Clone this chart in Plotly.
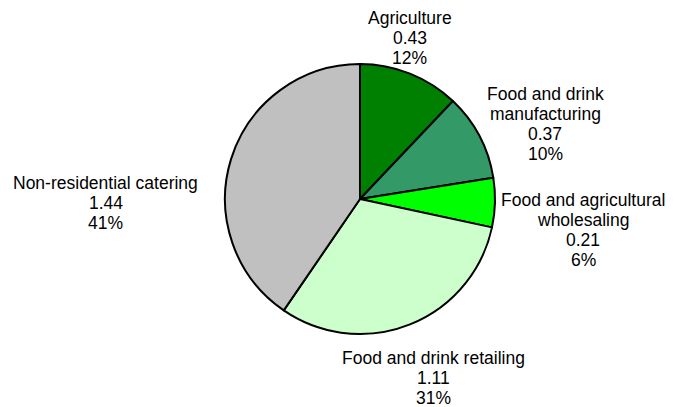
import plotly.graph_objects as go

W, H = 677, 407

# Sector shares of the food chain
sectors = ["Agriculture", "Food and drink manufacturing", "Food and agricultural wholesaling",
           "Food and drink retailing", "Non-residential catering"]
values = [0.43, 0.37, 0.21, 1.11, 1.44]
percents = ["12%", "10%", "6%", "31%", "41%"]
name_lines = [["Agriculture"], ["Food and drink", "manufacturing"],
              ["Food and agricultural", "wholesaling"],
              ["Food and drink retailing"], ["Non-residential catering"]]
colors = ["#008000", "#339966", "#00FF00", "#CCFFCC", "#C0C0C0"]

# label block: centre x and first-line y in pixels (from top); lines 20 px apart
label_pos = [(410, 18), (545, 94), (583, 200), (433, 358), (106, 183)]
LINE_STEP = 20

fig = go.Figure(go.Pie(
    labels=sectors,
    values=values,
    sort=False,
    direction="clockwise",
    rotation=0,
    marker=dict(colors=colors, line=dict(color="black", width=2)),
    textinfo="none",
    hoverinfo="label+value",
    showlegend=False,
    domain=dict(x=[225 / W, 495 / W], y=[(H - 334) / H, (H - 64) / H]),
))

for names, v, p, (px, py) in zip(name_lines, values, percents, label_pos):
    lines = names + [f"{v:.2f}", p]
    for i, line in enumerate(lines):
        fig.add_annotation(
            x=px / W, y=1 - (py + i * LINE_STEP) / H, xref="paper", yref="paper",
            text=line, showarrow=False, xanchor="center", yanchor="middle",
            font=dict(family="Liberation Sans, Arial, sans-serif", size=17.5, color="black"),
        )

fig.update_layout(
    width=W, height=H,
    margin=dict(l=0, r=0, t=0, b=0),
    paper_bgcolor="white", plot_bgcolor="white",
)

fig.write_html("out.html")
